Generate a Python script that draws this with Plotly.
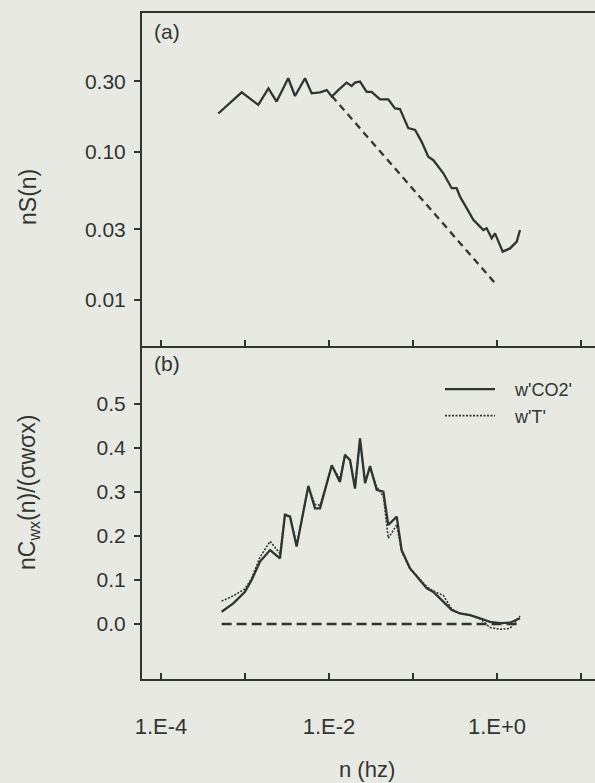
import plotly.graph_objects as go

# ---------------- data ----------------
# panel (a): normalised spectrum nS(n)
freq_a = [4.81e-4, 9.14e-4, 1.44e-3, 1.90e-3, 2.38e-3, 3.27e-3, 3.94e-3, 5.18e-3, 6.22e-3, 7.82e-3,
          9.40e-3, 1.08e-2, 1.29e-2, 1.62e-2, 1.86e-2, 2.04e-2, 2.34e-2, 2.81e-2, 3.22e-2, 4.05e-2,
          5.08e-2, 6.11e-2, 7.00e-2, 8.79e-2, 0.106, 0.127, 0.152, 0.175, 0.230, 0.289,
          0.331, 0.363, 0.436, 0.523, 0.628, 0.687, 0.753, 0.865, 0.947, 1.04,
          1.17, 1.43, 1.72, 1.88]
nS_a = [0.182, 0.253, 0.208, 0.269, 0.219, 0.315, 0.239, 0.315, 0.249, 0.253,
        0.262, 0.237, 0.262, 0.294, 0.279, 0.294, 0.299, 0.255, 0.255, 0.227,
        0.227, 0.197, 0.195, 0.145, 0.141, 0.117, 0.093, 0.088, 0.0718, 0.0569,
        0.0569, 0.0499, 0.0417, 0.0348, 0.0313, 0.0297, 0.0305, 0.0261, 0.0282, 0.0248,
        0.0212, 0.0223, 0.0248, 0.0297]
# -2/3 reference line (end points)
ref_n = [1.08e-2, 0.947]
ref_S = [0.239, 0.0130]

# panel (b): normalised cospectra
freq_b = [5.27e-4, 7.26e-4, 1.0e-3, 1.20e-3, 1.51e-3, 1.99e-3, 2.61e-3, 2.99e-3, 3.44e-3, 4.12e-3,
          5.68e-3, 6.81e-3, 7.82e-3, 1.08e-2, 1.35e-2, 1.55e-2, 1.78e-2, 2.04e-2, 2.34e-2, 2.69e-2,
          3.08e-2, 3.70e-2, 4.44e-2, 5.08e-2, 6.40e-2, 7.33e-2, 9.20e-2, 0.111, 0.146, 0.175,
          0.230, 0.289, 0.363, 0.478, 0.628, 0.826, 1.09, 1.43, 1.88]
co2_b = [0.028, 0.047, 0.073, 0.100, 0.142, 0.168, 0.149, 0.248, 0.244, 0.176,
         0.314, 0.263, 0.263, 0.361, 0.323, 0.384, 0.373, 0.308, 0.422, 0.320,
         0.359, 0.305, 0.301, 0.225, 0.244, 0.168, 0.127, 0.108, 0.081, 0.073,
         0.051, 0.032, 0.024, 0.020, 0.013, 0.005, 0.002, 0.003, 0.013]
T_b = [0.052, 0.064, 0.080, 0.104, 0.152, 0.188, 0.160, 0.250, 0.245, 0.180,
       0.312, 0.272, 0.270, 0.360, 0.330, 0.386, 0.372, 0.310, 0.415, 0.325,
       0.355, 0.312, 0.290, 0.195, 0.225, 0.165, 0.125, 0.110, 0.085, 0.075,
       0.065, 0.034, 0.024, 0.020, 0.012, -0.008, -0.012, -0.010, 0.018]
zero_n = [5.27e-4, 1.88]
zero_v = [0.0, 0.0]

x_tickvals = [1e-4, 1e-2, 1e0]
x_ticktext = ["1.E-4", "1.E-2", "1.E+0"]
x_minorvals = [1e-3, 1e-1, 1e1]
ya_tickvals = [0.01, 0.03, 0.10, 0.30]
ya_ticktext = ["0.01", "0.03", "0.10", "0.30"]
yb_tickvals = [0.0, 0.1, 0.2, 0.3, 0.4, 0.5]
yb_ticktext = ["0.0", "0.1", "0.2", "0.3", "0.4", "0.5"]

# ---------------- style ----------------
BG = "#e9e9e4"
INK = "#2f3532"
FONT = "Liberation Sans, Arial, sans-serif"

W, H = 595, 783
ML, MR, MT, MB = 142, 0, 13, 104
PW, PH = W - ML - MR, H - MT - MB

fig = go.Figure()

fig.add_trace(go.Scatter(x=freq_a, y=nS_a, mode="lines", line=dict(color=INK, width=2.3),
                         xaxis="x", yaxis="y", showlegend=False))
fig.add_trace(go.Scatter(x=ref_n, y=ref_S, mode="lines", line=dict(color=INK, width=2.3, dash="7px,5px"),
                         xaxis="x", yaxis="y", showlegend=False))

fig.add_trace(go.Scatter(x=freq_b, y=co2_b, mode="lines", name="\u00a0\u00a0\u00a0w'CO2'",
                         line=dict(color=INK, width=2.3), xaxis="x2", yaxis="y2"))
fig.add_trace(go.Scatter(x=freq_b, y=T_b, mode="lines", name="\u00a0\u00a0\u00a0w'T'",
                         line=dict(color=INK, width=1.6, dash="2px,1.5px"), xaxis="x2", yaxis="y2"))
fig.add_trace(go.Scatter(x=zero_n, y=zero_v, mode="lines", line=dict(color=INK, width=2.3, dash="10px,5px"),
                         xaxis="x2", yaxis="y2", showlegend=False))

xr = [-4.226, -4.226 + PW / 84.0]
common_x = dict(type="log", range=xr, tickvals=x_tickvals, ticks="inside", ticklen=6, tickwidth=1.5,
                tickcolor=INK, showline=True, linecolor=INK, linewidth=2, showgrid=False, zeroline=False,
                minor=dict(tickvals=x_minorvals, ticks="inside", ticklen=6, tickwidth=1.5,
                           tickcolor=INK, showgrid=False))

fig.update_layout(
    width=W, height=H,
    margin=dict(l=ML, r=MR, t=MT, b=MB),
    paper_bgcolor=BG, plot_bgcolor=BG,
    font=dict(family=FONT, size=21, color=INK),
    xaxis=dict(**common_x, domain=[0, 1], anchor="y", mirror=True, showticklabels=False),
    yaxis=dict(type="log", domain=[0.5, 1], range=[-2.311, -0.061], anchor="x",
               tickvals=ya_tickvals, ticktext=ya_ticktext, ticks="outside", ticklen=6, tickwidth=1.5,
               tickcolor=INK, showline=True, linecolor=INK, linewidth=2, showgrid=False,
               ticklabelstandoff=4, tickfont=dict(size=21)),
    xaxis2=dict(**common_x, domain=[0, 1], anchor="y2", ticktext=x_ticktext,
                ticklabelstandoff=27, tickfont=dict(size=22)),
    yaxis2=dict(domain=[0, 0.5], range=[-0.125, 0.632], anchor="x2",
                tickvals=yb_tickvals, ticktext=yb_ticktext, ticks="outside", ticklen=6, tickwidth=1.5,
                tickcolor=INK, showline=True, linecolor=INK, linewidth=2, showgrid=False, zeroline=False,
                ticklabelstandoff=4, tickfont=dict(size=21)),
    legend=dict(x=(440 - ML) / PW, y=(H - MB - 371) / PH, xanchor="left", yanchor="top",
                bgcolor="rgba(0,0,0,0)", font=dict(size=18), itemwidth=50, tracegroupgap=0),
    showlegend=True,
)

def px_x(px):
    return (px - ML) / PW

def px_y(py):
    return (H - MB - py) / PH

ann = [
    dict(text="(a)", x=px_x(167), y=px_y(32), size=21, angle=0),
    dict(text="(b)", x=px_x(167), y=px_y(363), size=21, angle=0),
    dict(text="nS(n)", x=px_x(28), y=px_y(197), size=23, angle=-90),
    dict(text="nC<sub>wx</sub>(n)/(σwσx)", x=px_x(28), y=px_y(493), size=23, angle=-90),
    dict(text="n (hz)", x=px_x(367), y=px_y(769), size=22, angle=0),
]
for a in ann:
    fig.add_annotation(text=a["text"], x=a["x"], y=a["y"], xref="paper", yref="paper",
                       showarrow=False, textangle=a["angle"], xanchor="center", yanchor="middle",
                       font=dict(family=FONT, size=a["size"], color=INK))

fig.write_html("out.html", config={"displayModeBar": False},
               post_script="document.body.style.margin='0px';document.body.style.overflow='hidden';"
                           "document.documentElement.style.background='" + BG + "';")
